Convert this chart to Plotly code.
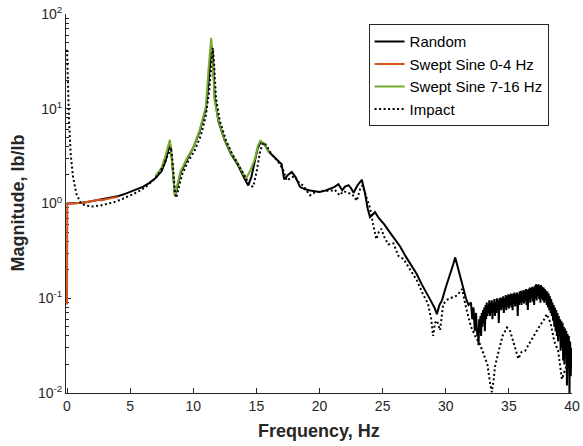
import plotly.graph_objects as go

# ---------------- data ----------------
random_f = [0.0, 0.5, 1.0, 1.5, 2.0, 2.5, 3.0, 3.5, 4.0, 4.5, 5.0, 5.5, 6.0, 6.5, 7.0, 7.5, 7.8, 8.0, 8.15,
            8.3, 8.45, 8.55, 8.7, 9.0, 9.5, 10.0, 10.5, 11.0, 11.2, 11.35, 11.45, 11.55, 11.7, 12.0, 12.5,
            13.0, 13.5, 14.0, 14.35, 14.6, 14.9, 15.1, 15.35, 15.6, 16.0, 16.5, 17.0, 17.2, 17.5, 17.8,
            18.1, 18.45, 18.8, 19.25, 19.6, 20.0, 20.4, 20.8, 21.2, 21.5, 21.8, 22.0, 22.3, 22.5, 22.7,
            23.0, 23.35, 23.6, 23.8, 24.0, 24.4, 24.7, 25.1, 25.6, 26.0, 26.4, 26.8, 27.2, 27.7, 28.1,
            28.5, 28.8, 29.1, 29.3, 29.5, 29.7, 30.0, 30.3, 30.6, 30.75, 31.0, 31.3, 31.6, 31.8, 32.0,
            32.1, 32.2, 32.3, 32.4, 32.5,
            32.55, 32.60, 32.65, 32.70, 32.75, 32.80, 32.85, 32.90, 32.95, 33.00,
            33.05, 33.10, 33.15, 33.20, 33.25, 33.30, 33.35, 33.40, 33.45, 33.50,
            33.55, 33.60, 33.65, 33.70, 33.75, 33.80, 33.85, 33.90, 33.95, 34.00,
            34.05, 34.10, 34.15, 34.20, 34.25, 34.30, 34.35, 34.40, 34.45, 34.50,
            34.55, 34.60, 34.65, 34.70, 34.75, 34.80, 34.85, 34.90, 34.95, 35.00,
            35.05, 35.10, 35.15, 35.20, 35.25, 35.30, 35.35, 35.40, 35.45, 35.50,
            35.55, 35.60, 35.65, 35.70, 35.75, 35.80, 35.85, 35.90, 35.95, 36.00,
            36.05, 36.10, 36.15, 36.20, 36.25, 36.30, 36.35, 36.40, 36.45, 36.50,
            36.55, 36.60, 36.65, 36.70, 36.75, 36.80, 36.85, 36.90, 36.95, 37.00,
            37.05, 37.10, 37.15, 37.20, 37.25, 37.30, 37.35, 37.40, 37.45, 37.50,
            37.55, 37.60, 37.65, 37.70, 37.75, 37.80, 37.85, 37.90, 37.95, 38.00,
            38.05, 38.10, 38.15, 38.20, 38.25, 38.30, 38.35, 38.40, 38.45, 38.50,
            38.55, 38.60, 38.65, 38.70, 38.75, 38.80, 38.85, 38.90, 38.95, 39.00,
            39.05, 39.10, 39.15, 39.20, 39.25, 39.30, 39.35, 39.40, 39.45, 39.50,
            39.55, 39.60, 39.65, 39.70, 39.75, 39.80, 39.85, 39.90, 39.95, 40.00]
random_m = [1.0, 1.0, 1.01, 1.03, 1.06, 1.09, 1.12, 1.15, 1.19, 1.25, 1.32, 1.40, 1.50, 1.64, 1.85, 2.2, 2.8,
            3.6, 4.4, 3.0, 1.5, 1.2, 1.45, 2.1, 2.9, 3.9, 5.7, 10.0, 18.0, 32.0, 46.0, 38.0, 13.0, 7.3,
            4.6, 3.3, 2.6, 1.9, 1.55, 1.9, 2.8, 3.8, 4.5, 4.3, 3.5, 3.0, 2.6, 1.8, 2.0, 2.15, 1.9, 1.5,
            1.42, 1.37, 1.35, 1.32, 1.36, 1.43, 1.5, 1.6, 1.38, 1.5, 1.56, 1.45, 1.3, 1.55, 1.78, 1.3,
            0.9, 0.72, 0.81, 0.7, 0.61, 0.49, 0.42, 0.35, 0.28, 0.23, 0.18, 0.14, 0.11, 0.095, 0.08,
            0.068, 0.085, 0.095, 0.13, 0.17, 0.23, 0.27, 0.2, 0.15, 0.1, 0.085, 0.09,
            0.06, 0.08, 0.045, 0.07, 0.04,
            0.045, 0.032, 0.06, 0.045, 0.065, 0.04, 0.07, 0.05, 0.075, 0.055,
            0.08, 0.045, 0.085, 0.06, 0.09, 0.065, 0.085, 0.07, 0.095, 0.065,
            0.09, 0.07, 0.095, 0.06, 0.09, 0.072, 0.098, 0.065, 0.092, 0.07,
            0.1, 0.075, 0.095, 0.055, 0.1, 0.078, 0.102, 0.075, 0.1, 0.08,
            0.105, 0.07, 0.1, 0.08, 0.108, 0.075, 0.105, 0.082, 0.11, 0.078,
            0.108, 0.085, 0.112, 0.08, 0.11, 0.075, 0.112, 0.088, 0.115, 0.082,
            0.11, 0.09, 0.115, 0.065, 0.11, 0.085, 0.118, 0.09, 0.12, 0.085,
            0.118, 0.092, 0.122, 0.088, 0.12, 0.095, 0.125, 0.085, 0.122, 0.075,
            0.125, 0.095, 0.13, 0.09, 0.128, 0.1, 0.132, 0.092, 0.13, 0.085,
            0.135, 0.1, 0.14, 0.095, 0.138, 0.105, 0.14, 0.098, 0.135, 0.09,
            0.138, 0.1, 0.132, 0.095, 0.13, 0.09, 0.125, 0.095, 0.12, 0.085,
            0.118, 0.08, 0.112, 0.075, 0.105, 0.07, 0.098, 0.065, 0.09, 0.058,
            0.085, 0.05, 0.08, 0.045, 0.075, 0.04, 0.07, 0.035, 0.065, 0.04,
            0.06, 0.028, 0.058, 0.03, 0.055, 0.022, 0.05, 0.02, 0.048, 0.025,
            0.045, 0.012, 0.042, 0.02, 0.04, 0.01, 0.035, 0.015, 0.03, 0.018]

sweep1_f = [0.0, 0.02, 0.5, 1.0, 1.5, 2.0, 2.5, 2.6, 2.7, 3.0, 3.5, 4.05]
sweep1_m = [0.086, 1.0, 1.0, 1.01, 1.03, 1.06, 1.08, 1.1, 1.08, 1.11, 1.14, 1.17]

sweep2_f = [7.0, 7.5, 7.8, 8.0, 8.15, 8.3, 8.45, 8.55, 8.7, 9.0, 9.5, 10.0, 10.5, 11.0, 11.2, 11.35,
            11.42, 11.5, 11.7, 12.0, 12.5, 13.0, 13.5, 14.0, 14.2, 14.5, 14.9, 15.1, 15.3, 15.6, 16.0]
sweep2_m = [1.95, 2.4, 3.2, 4.0, 4.7, 3.0, 1.5, 1.2, 1.5, 2.2, 3.0, 3.9, 5.9, 10.5, 25.0, 50.0,
            56.0, 40.0, 12.0, 7.5, 4.7, 3.4, 2.7, 2.0, 1.85, 2.2, 3.0, 4.0, 4.6, 4.3, 3.4]

impact_f = [0.0, 0.08, 0.16, 0.29, 0.48, 0.74, 1.1, 1.5, 2.0, 2.6, 3.2, 3.7, 4.2, 4.7, 5.2, 5.8, 6.3,
            6.8, 7.2, 7.6, 8.0, 8.25, 8.4, 8.55, 8.65, 8.8, 9.1, 9.6, 10.1, 10.6, 11.0, 11.25, 11.45,
            11.55, 11.65, 11.8, 12.1, 12.6, 13.1, 13.6, 14.1, 14.5, 14.75, 15.0, 15.3, 15.55, 15.8,
            16.2, 16.7, 17.1, 17.4, 17.7, 18.0, 18.4, 18.7, 19.0, 19.25, 19.6, 20.0, 20.4, 20.8, 21.2,
            21.6, 21.9, 22.2, 22.6, 22.95, 23.2, 23.4, 23.7, 24.0, 24.25, 24.5, 24.7, 24.9, 25.1, 25.45,
            25.85, 26.25, 26.65, 27.2, 27.7, 28.2, 28.6, 28.85, 29.0, 29.15, 29.3, 29.55, 29.8, 30.2,
            30.6, 30.9, 31.3, 31.6, 32.0, 32.4, 32.7, 33.0, 33.3, 33.5, 33.65, 33.8, 33.9, 34.2, 34.5,
            34.85, 35.1, 35.4, 35.75, 36.0, 36.3, 36.6, 36.95, 37.4, 37.8, 38.0, 38.3, 38.6, 38.9,
            39.2, 39.6, 40.0]
impact_m = [42.0, 17.0, 7.5, 3.3, 1.9, 1.27, 1.0, 0.95, 0.93, 0.95, 0.99, 1.03, 1.09, 1.16, 1.25, 1.37,
            1.52, 1.75, 2.0, 2.45, 3.3, 3.9, 2.4, 1.3, 1.15, 1.4, 2.0, 2.8, 3.6, 5.2, 8.5, 15.0, 30.0,
            44.0, 30.0, 13.0, 7.5, 4.6, 3.3, 2.5, 1.9, 1.55, 1.5, 2.1, 3.6, 4.4, 4.1, 3.3, 2.8, 2.3,
            1.75, 1.85, 1.95, 1.65, 1.55, 1.35, 1.22, 1.3, 1.34, 1.37, 1.35, 1.4, 1.22, 1.35, 1.3,
            1.25, 1.07, 1.4, 1.55, 1.2, 0.9, 0.6, 0.42, 0.5, 0.54, 0.45, 0.37, 0.38, 0.28, 0.26, 0.2,
            0.155, 0.11, 0.087, 0.06, 0.04, 0.055, 0.058, 0.046, 0.087, 0.098, 0.103, 0.107, 0.125,
            0.08, 0.05, 0.038, 0.033, 0.026, 0.02, 0.013, 0.0102, 0.014, 0.019, 0.028, 0.04, 0.049,
            0.045, 0.033, 0.023, 0.027, 0.028, 0.033, 0.04, 0.05, 0.06, 0.068, 0.055, 0.035, 0.028,
            0.014, 0.02, 0.025]

series_names = ["Random", "Swept Sine 0-4 Hz", "Swept Sine 7-16 Hz", "Impact"]
x_ticks = [0, 5, 10, 15, 20, 25, 30, 35, 40]
y_ticks = [0.01, 0.1, 1, 10, 100]
y_tick_text = ["10<sup>-2</sup>", "10<sup>-1</sup>", "10<sup>0</sup>", "10<sup>1</sup>", "10<sup>2</sup>"]
x_title = "Frequency, Hz"
y_title = "Magnitude, lb/lb"

# ---------------- figure ----------------
FONT = "Liberation Sans, Arial, Helvetica, sans-serif"
AX = "#262626"

fig = go.Figure()
fig.add_trace(go.Scatter(x=random_f, y=random_m, mode="lines", name=series_names[0],
                         line=dict(color="black", width=2)))
fig.add_trace(go.Scatter(x=sweep1_f, y=sweep1_m, mode="lines", name=series_names[1],
                         line=dict(color="#D95319", width=2)))
fig.add_trace(go.Scatter(x=sweep2_f, y=sweep2_m, mode="lines", name=series_names[2],
                         line=dict(color="#77AC30", width=2)))
fig.add_trace(go.Scatter(x=impact_f, y=impact_m, mode="lines", name=series_names[3],
                         line=dict(color="black", width=2, dash="2px,2.5px")))

minor_vals = []
for e in [0.01, 0.1, 1, 10]:
    for k in range(2, 10):
        minor_vals.append(round(e * k, 6))

fig.update_layout(
    width=583, height=446,
    margin=dict(l=66, r=11, t=14, b=53, autoexpand=False),
    paper_bgcolor="white", plot_bgcolor="white",
    font=dict(family=FONT, size=14, color=AX),
    showlegend=True,
    legend=dict(x=0.598, y=0.973, xanchor="left", yanchor="top",
                bgcolor="white", bordercolor="#262626", borderwidth=1,
                font=dict(family=FONT, size=15, color="black"),
                itemwidth=30, tracegroupgap=0),
    xaxis=dict(range=[-0.08, 40], tickvals=x_ticks, ticks="inside", ticklen=5, tickcolor=AX,
               showline=True, linecolor=AX, linewidth=1, showgrid=False, zeroline=False,
               automargin=False, layer="below traces",
               tickfont=dict(family=FONT, size=14, color=AX)),
    yaxis=dict(type="log", range=[-2, 2], tickvals=y_ticks, ticktext=y_tick_text,
               ticks="inside", ticklen=5, tickcolor=AX,
               minor=dict(tickvals=minor_vals, ticks="inside", ticklen=3, tickcolor=AX),
               showline=True, linecolor=AX, linewidth=1, showgrid=False, zeroline=False,
               automargin=False, layer="below traces",
               tickfont=dict(family=FONT, size=14, color=AX)),
    annotations=[
        dict(text="<b>" + x_title + "</b>", xref="paper", yref="paper", x=0.5, y=0,
             xanchor="center", yanchor="middle", yshift=-38, showarrow=False,
             font=dict(family=FONT, size=18, color=AX)),
        dict(text="<b>" + y_title + "</b>", xref="paper", yref="paper", x=0, y=0.5,
             xanchor="center", yanchor="middle", xshift=-49, textangle=-90, showarrow=False,
             font=dict(family=FONT, size=18, color=AX)),
    ],
)

fig.write_html("out.html")
